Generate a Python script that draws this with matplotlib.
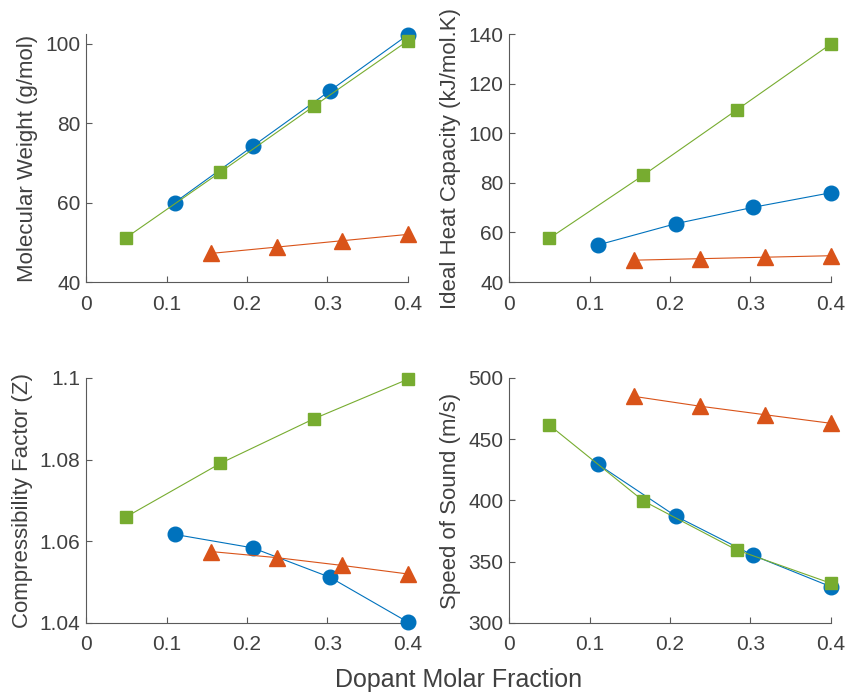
import numpy as np
import matplotlib
matplotlib.use("Agg")
import matplotlib.pyplot as plt

plt.rcParams['font.family'] = ['Liberation Sans', 'DejaVu Sans']

# MATLAB default colours
blue = "#0072BD"
orange = "#D95319"
green = "#77AC30"
grey = "#404040"

# molecular weight
mw_x_blue = [0.110, 0.207, 0.303, 0.400]
mw_y_blue = [60.0, 74.2, 88.2, 102.3]
mw_x_green = [0.050, 0.167, 0.283, 0.400]
mw_y_green = [51.2, 67.7, 84.3, 100.8]
mw_x_orange = [0.155, 0.237, 0.318, 0.400]
mw_y_orange = [47.2, 48.8, 50.4, 52.0]

# ideal heat capacity
cp_y_blue = [54.9, 63.5, 70.1, 76.0]
cp_y_green = [57.6, 83.1, 109.4, 136.0]
cp_y_orange = [48.8, 49.4, 50.0, 50.6]

# compressibility factor
z_y_blue = [1.0617, 1.0584, 1.0512, 1.0402]
z_y_green = [1.0660, 1.0791, 1.0900, 1.0997]
z_y_orange = [1.0575, 1.0560, 1.0541, 1.0520]

# speed of sound
c_y_blue = [429.8, 387.3, 355.3, 329.6]
c_y_green = [461.6, 399.6, 359.6, 332.4]
c_y_orange = [485.0, 477.0, 470.0, 463.0]

x_ticks = [0, 0.1, 0.2, 0.3, 0.4]
x_ticklabels = ["0", "0.1", "0.2", "0.3", "0.4"]


def drawPanel(ax, yb, yg, yo, ylim, yticks, yticklabels, ylabel):
    ax.plot(mw_x_blue, yb, color=blue, lw=0.8, marker='o', ms=10.5,
            mec=blue, mfc=blue, zorder=3)
    ax.plot(mw_x_orange, yo, color=orange, lw=0.8, marker='^', ms=11,
            mec=orange, mfc=orange, zorder=3)
    ax.plot(mw_x_green, yg, color=green, lw=0.8, marker='s', ms=8,
            mec=green, mfc=green, zorder=3)
    ax.set_xlim(0, 0.4)
    ax.set_ylim(*ylim)
    ax.set_xticks(x_ticks)
    ax.set_xticklabels(x_ticklabels)
    ax.set_yticks(yticks)
    ax.set_yticklabels(yticklabels)
    ax.spines['top'].set_visible(False)
    ax.spines['right'].set_visible(False)
    for s in ['left', 'bottom']:
        ax.spines[s].set_color("#5a5a5a")
        ax.spines[s].set_linewidth(0.8)
    ax.tick_params(direction='in', length=4, width=0.8, colors="#5a5a5a",
                   labelcolor=grey, labelsize=15)
    ax.tick_params(axis='x', pad=9)
    ax.tick_params(axis='y', pad=4)
    ax.set_ylabel(ylabel, fontsize=16, color=grey, labelpad=5)
    for line in ax.get_lines():
        line.set_clip_on(False)


fig = plt.figure(figsize=(8.46, 6.97), dpi=100)

ax1 = fig.add_axes([0.1017, 0.5954, 0.3805, 0.3558])
drawPanel(ax1, mw_y_blue, mw_y_green, mw_y_orange, (40, 102.5),
          [40, 60, 80, 100], ["40", "60", "80", "100"], "Molecular Weight (g/mol)")

ax2 = fig.add_axes([0.6017, 0.5954, 0.3805, 0.3558])
drawPanel(ax2, cp_y_blue, cp_y_green, cp_y_orange, (40, 140),
          [40, 60, 80, 100, 120, 140], ["40", "60", "80", "100", "120", "140"],
          "Ideal Heat Capacity (kJ/mol.K)")

ax3 = fig.add_axes([0.1017, 0.1062, 0.3805, 0.3515])
drawPanel(ax3, z_y_blue, z_y_green, z_y_orange, (1.04, 1.1),
          [1.04, 1.06, 1.08, 1.1], ["1.04", "1.06", "1.08", "1.1"],
          "Compressibility Factor (Z)")

ax4 = fig.add_axes([0.6017, 0.1062, 0.3805, 0.3515])
drawPanel(ax4, c_y_blue, c_y_green, c_y_orange, (300, 500),
          [300, 350, 400, 450, 500], ["300", "350", "400", "450", "500"],
          "Speed of Sound (m/s)")

fig.text(0.5426, 0.0244, "Dopant Molar Fraction", ha='center', va='center',
         fontsize=18, color=grey)

fig.savefig("out.png", dpi=100)
